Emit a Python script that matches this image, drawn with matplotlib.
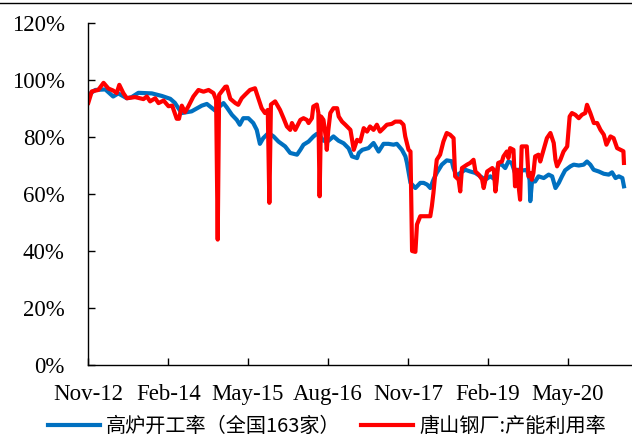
import pandas as pd
import matplotlib
matplotlib.use("Agg")
import matplotlib.pyplot as plt
import matplotlib.dates as mdates
from matplotlib.lines import Line2D
from matplotlib.ticker import FuncFormatter

# 高炉开工率（全国163家）
blue_dates = [
    "2012-11-01", "2012-12-11", "2013-02-06", "2013-03-23", "2013-04-21", "2013-06-09",
    "2013-07-07", "2013-08-14", "2013-10-30", "2013-12-26", "2014-02-12", "2014-03-10",
    "2014-04-18", "2014-06-14", "2014-08-11", "2014-09-09", "2014-10-26", "2014-12-13",
    "2015-01-01", "2015-01-30", "2015-02-27", "2015-03-16", "2015-04-05", "2015-05-04",
    "2015-06-01", "2015-06-21", "2015-07-09", "2015-07-28", "2015-08-27", "2015-09-25",
    "2015-10-23", "2015-11-30", "2015-12-29", "2016-02-06", "2016-02-25", "2016-03-14",
    "2016-04-12", "2016-05-10", "2016-05-29", "2016-06-18", "2016-07-06", "2016-08-04",
    "2016-09-01", "2016-09-30", "2016-10-29", "2016-11-27", "2016-12-16", "2017-01-14",
    "2017-01-24", "2017-02-13", "2017-03-20", "2017-04-18", "2017-05-17", "2017-06-14",
    "2017-07-12", "2017-08-10", "2017-08-29", "2017-09-27", "2017-10-17", "2017-10-26",
    "2017-11-15", "2017-12-13", "2018-01-10", "2018-01-29", "2018-02-18", "2018-03-08",
    "2018-03-26", "2018-04-14", "2018-05-13", "2018-06-10", "2018-07-09", "2018-07-18",
    "2018-08-07", "2018-08-26", "2018-09-24", "2018-10-22", "2018-11-20", "2018-12-19",
    "2019-01-16", "2019-02-14", "2019-03-15", "2019-03-31", "2019-04-21", "2019-05-10",
    "2019-05-28", "2019-06-16", "2019-07-05", "2019-07-24", "2019-08-23", "2019-09-11",
    "2019-09-26", "2019-09-30", "2019-10-10", "2019-10-28", "2019-11-16", "2019-12-16",
    "2020-01-13", "2020-02-02", "2020-02-21", "2020-03-11", "2020-03-29", "2020-04-16",
    "2020-05-16", "2020-06-04", "2020-07-03", "2020-07-31", "2020-08-19", "2020-09-07",
    "2020-09-26", "2020-10-25", "2020-11-23", "2020-12-21", "2021-01-09", "2021-01-29",
    "2021-02-17", "2021-03-09", "2021-03-18",
]
blue_values = [
    94.8, 96.5, 96.7, 94.2, 95.3, 93.6,
    94.0, 95.5, 95.3, 94.4, 93.4, 92.0,
    88.4, 89.0, 91.0, 91.6, 89.3, 91.9,
    90.4, 87.8, 86.0, 84.3, 86.6, 86.6,
    84.9, 82.5, 77.6, 79.6, 81.4, 80.2,
    78.4, 76.7, 74.4, 73.8, 75.5, 77.3,
    78.4, 80.2, 81.1, 80.2, 78.7, 78.7,
    80.2, 78.7, 77.8, 76.0, 73.2, 72.6,
    74.4, 75.5, 76.1, 77.9, 74.9, 77.6,
    77.6, 77.3, 77.6, 75.5, 73.2, 70.9,
    63.9, 62.1, 63.9, 63.9, 63.3, 62.1,
    65.0, 67.4, 70.3, 71.8, 71.5, 69.1,
    66.2, 67.4, 68.5, 67.9, 67.4, 66.2,
    65.0, 66.2, 65.0, 70.3, 70.3, 69.1,
    71.4, 70.9, 67.4, 68.5, 68.3, 68.5,
    65.0, 57.5, 64.4, 64.4, 66.2, 65.6,
    66.8, 66.2, 62.1, 63.9, 66.2, 68.3,
    69.7, 70.3, 70.0, 70.3, 71.4, 70.3,
    68.5, 67.9, 67.1, 66.8, 67.6, 65.6,
    66.2, 65.6, 62.7,
]

# 唐山钢厂:产能利用率
red_dates = [
    "2012-11-01", "2012-11-21", "2012-12-28", "2013-01-27", "2013-02-24", "2013-03-23",
    "2013-04-12", "2013-04-27", "2013-05-20", "2013-06-09", "2013-07-26", "2013-09-12",
    "2013-10-01", "2013-10-20", "2013-11-18", "2013-12-07", "2014-01-05", "2014-02-02",
    "2014-02-23", "2014-03-21", "2014-04-03", "2014-04-19", "2014-05-07", "2014-05-26",
    "2014-06-24", "2014-07-23", "2014-08-21", "2014-09-19", "2014-10-17", "2014-11-01",
    "2014-11-10", "2014-11-18", "2014-12-23", "2015-01-01", "2015-01-21", "2015-02-19",
    "2015-03-07", "2015-03-27", "2015-04-15", "2015-05-13", "2015-06-11", "2015-06-30",
    "2015-07-19", "2015-08-07", "2015-08-23", "2015-09-01", "2015-09-10", "2015-10-04",
    "2015-11-01", "2015-11-21", "2015-12-10", "2015-12-29", "2016-01-08", "2016-01-27",
    "2016-02-25", "2016-03-14", "2016-04-02", "2016-04-12", "2016-05-01", "2016-05-09",
    "2016-05-29", "2016-06-07", "2016-06-14", "2016-06-22", "2016-07-06", "2016-07-19",
    "2016-07-25", "2016-08-02", "2016-08-14", "2016-09-01", "2016-09-22", "2016-10-01",
    "2016-10-20", "2016-11-08", "2016-12-07", "2016-12-26", "2017-01-14", "2017-02-01",
    "2017-02-21", "2017-03-12", "2017-03-29", "2017-04-18", "2017-05-07", "2017-05-25",
    "2017-06-14", "2017-07-03", "2017-07-31", "2017-08-20", "2017-09-18", "2017-10-06",
    "2017-10-16", "2017-11-04", "2017-11-15", "2017-11-24", "2017-12-13", "2017-12-22",
    "2018-01-10", "2018-02-08", "2018-03-08", "2018-03-17", "2018-03-26", "2018-04-04",
    "2018-04-14", "2018-05-03", "2018-05-22", "2018-06-10", "2018-06-29", "2018-07-19",
    "2018-07-28", "2018-08-17", "2018-08-26", "2018-09-05", "2018-10-04", "2018-10-22",
    "2018-11-10", "2018-11-21", "2018-12-10", "2018-12-29", "2019-01-07", "2019-01-27",
    "2019-02-25", "2019-03-06", "2019-03-15", "2019-03-22", "2019-03-31", "2019-04-21",
    "2019-04-30", "2019-05-19", "2019-05-28", "2019-06-07", "2019-06-26", "2019-07-05",
    "2019-07-15", "2019-08-03", "2019-08-12", "2019-09-10", "2019-09-20", "2019-10-03",
    "2019-10-09", "2019-10-18", "2019-10-28", "2019-11-16", "2019-11-26", "2019-12-15",
    "2020-01-03", "2020-01-23", "2020-02-11", "2020-02-21", "2020-03-01", "2020-03-20",
    "2020-04-07", "2020-04-28", "2020-05-12", "2020-05-25", "2020-06-13", "2020-07-03",
    "2020-07-21", "2020-08-09", "2020-08-19", "2020-09-07", "2020-09-27", "2020-10-16",
    "2020-11-04", "2020-11-23", "2020-12-08", "2020-12-31", "2021-01-18", "2021-02-07",
    "2021-02-27", "2021-03-15", "2021-03-18",
]
red_values = [
    92.0, 96.0, 96.5, 99.0, 97.0, 96.3,
    95.4, 98.3, 95.4, 93.6, 94.0, 93.3,
    94.2, 92.5, 93.6, 91.9, 92.8, 90.8,
    91.0, 86.4, 86.4, 91.0, 88.7, 90.7,
    94.2, 96.5, 95.9, 96.5, 95.4, 93.0,
    44.0, 94.8, 97.6, 97.7, 93.4, 91.9,
    91.3, 93.6, 94.8, 96.5, 97.1, 93.6,
    90.1, 88.4, 89.5, 56.9, 91.4, 92.5,
    89.5, 86.6, 83.7, 82.5, 84.9, 82.5,
    86.0, 86.6, 86.0, 84.9, 86.6, 90.7,
    91.4, 88.4, 59.2, 87.2, 86.0, 80.0,
    75.5, 82.0, 88.4, 90.1, 90.1, 87.2,
    85.4, 84.3, 82.5, 75.5, 79.0, 78.4,
    83.1, 81.9, 83.7, 82.5, 84.3, 81.9,
    83.1, 84.3, 84.6, 85.4, 85.4, 84.3,
    80.2, 75.5, 74.9, 40.0, 39.7, 49.3,
    52.2, 52.2, 52.2, 55.7, 60.4, 66.2,
    72.0, 73.8, 78.4, 81.4, 80.8, 79.6,
    66.2, 65.0, 60.9, 69.1, 70.3, 70.9,
    72.0, 67.9, 66.8, 65.1, 62.1, 67.9,
    69.1, 68.5, 60.9, 64.4, 70.9, 71.4,
    73.2, 74.9, 72.6, 76.1, 75.5, 62.7,
    68.5, 58.0, 76.7, 76.7, 66.2, 67.4,
    65.0, 67.4, 73.2, 73.8, 71.4, 75.5,
    79.6, 81.4, 77.9, 72.0, 69.7, 72.0,
    74.9, 76.7, 87.2, 88.4, 87.8, 86.6,
    87.8, 88.4, 91.3, 88.4, 84.9, 84.9,
    82.5, 80.8, 77.3, 80.2, 79.6, 76.1,
    75.5, 75.0, 70.9,
]

series_names = ["高炉开工率（全国163家）", "唐山钢厂:产能利用率"]
tick_dates = ["2012-11-01", "2014-02-01", "2015-05-01", "2016-08-01",
              "2017-11-01", "2019-02-01", "2020-05-01"]
y_ticks = [0, 20, 40, 60, 80, 100, 120]

serif = ["Liberation Serif", "DejaVu Serif"]
cjk = ["Noto Sans CJK SC", "DejaVu Sans"]

fig = plt.figure(figsize=(6.32, 4.37), dpi=100)
ax = fig.add_axes([88.3 / 632, 72 / 437, (632 - 88.3) / 632, 342 / 437])

ax.plot(pd.to_datetime(blue_dates), blue_values, color="#0070C0", lw=3.0,
        label=series_names[0], solid_joinstyle="round")
ax.plot(pd.to_datetime(red_dates), red_values, color="#FF0000", lw=3.0,
        label=series_names[1], solid_joinstyle="round")

ax.set_ylim(0, 120)
ax.set_yticks(y_ticks)
ax.yaxis.set_major_formatter(FuncFormatter(lambda v, p: f"{v:.0f}%"))
ax.set_xlim(pd.Timestamp("2012-11-01"), pd.Timestamp("2021-05-03"))
ax.set_xticks(pd.to_datetime(tick_dates))
ax.xaxis.set_major_formatter(mdates.DateFormatter("%b-%y"))

for s in ["top", "right"]:
    ax.spines[s].set_visible(False)
for s in ["left", "bottom"]:
    ax.spines[s].set_color("black")
    ax.spines[s].set_linewidth(1.0)

ax.tick_params(axis="both", direction="in", length=5, width=1, color="black")
ax.tick_params(axis="y", pad=17)
ax.tick_params(axis="x", pad=14)
for lab in ax.get_xticklabels() + ax.get_yticklabels():
    lab.set_family(serif)
    lab.set_fontsize(16.5)
    lab.set_color("black")

fig.legend(loc="center", bbox_to_anchor=(0.517, 0.025), ncol=2, frameon=False,
           prop={"family": cjk, "size": 14.5, "weight": "light"}, handlelength=2.6,
           handletextpad=0.3, columnspacing=1.0, borderaxespad=0)

# thin frame line along the top of the picture
fig.add_artist(Line2D([0, 1], [0.9924, 0.9924], transform=fig.transFigure,
                      color="black", lw=1))

fig.savefig("out.png", dpi=100)
